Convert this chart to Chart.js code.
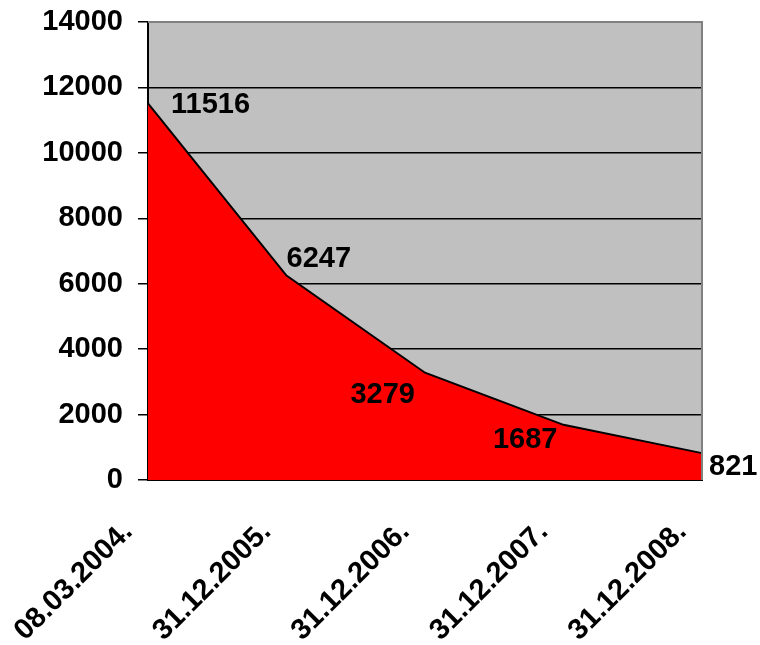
<!DOCTYPE html>
<html lang="en">
<head>
  <meta charset="UTF-8">
  <title>Decline chart</title>
  <script src="https://cdn.jsdelivr.net/npm/chart.js"></script>
  <style>
    body { margin: 0; background: #ffffff; }
    #wrap { width: 760px; height: 645px; }
  </style>
</head>
<body>
  <div id="wrap"><canvas id="declineChart" width="760" height="645"></canvas></div>

  <script>
    // data
    const dates = ['08.03.2004.', '31.12.2005.', '31.12.2006.', '31.12.2007.', '31.12.2008.'];
    const counts = [11516, 6247, 3279, 1687, 821];
    const yTicks = [0, 2000, 4000, 6000, 8000, 10000, 12000, 14000];

    // where each value label sits relative to its point (px) and how it is aligned
    const labelDx = [23, 0, -10, -6, 7];
    const labelDy = [2, -17, 22, 15, 14];
    const labelAlign = ['left', 'left', 'right', 'right', 'left'];

    const FONT = "'Liberation Sans', Arial, sans-serif";
    const FONT_SIZE = 29;

    // gray plot background plus the gray top/right frame
    const plotFrame = {
      id: 'plotFrame',
      beforeDraw(chart) {
        const { ctx, chartArea: a } = chart;
        ctx.save();
        ctx.fillStyle = '#c0c0c0';
        ctx.fillRect(a.left, a.top, a.right - a.left, a.bottom - a.top);
        ctx.restore();
      },
      afterDatasetsDraw(chart) {
        const { ctx, chartArea: a } = chart;
        ctx.save();
        ctx.strokeStyle = '#808080';
        ctx.lineWidth = 2;
        ctx.beginPath();
        ctx.moveTo(a.left, a.top);
        ctx.lineTo(a.right, a.top);
        ctx.lineTo(a.right, a.bottom);
        ctx.stroke();
        ctx.restore();
      }
    };

    // bold value labels next to each point
    const valueLabels = {
      id: 'valueLabels',
      afterDraw(chart) {
        const { ctx } = chart;
        const meta = chart.getDatasetMeta(0);
        ctx.save();
        ctx.font = 'bold ' + FONT_SIZE + 'px ' + FONT;
        ctx.fillStyle = '#000000';
        ctx.textBaseline = 'middle';
        meta.data.forEach((pt, i) => {
          ctx.textAlign = labelAlign[i];
          ctx.fillText(String(counts[i]), pt.x + labelDx[i], pt.y + labelDy[i]);
        });
        ctx.restore();
      }
    };

    const ctx = document.getElementById('declineChart').getContext('2d');
    const declineChart = new Chart(ctx, {
      type: 'line',
      data: {
        labels: dates,
        datasets: [{
          data: counts,
          borderColor: '#000000',
          borderWidth: 2,
          backgroundColor: '#ff0000',
          fill: 'origin',
          tension: 0,
          pointRadius: 0
        }]
      },
      options: {
        responsive: false,
        animation: false,
        layout: {
          padding: { top: 22, right: 58, left: 0, bottom: 0 }
        },
        scales: {
          x: {
            offset: false,
            afterFit(axis) {
              axis.height = 165;
              axis.paddingLeft = 0;
              axis.paddingRight = 0;
            },
            grid: { display: false },
            border: { display: true, color: '#000000', width: 2 },
            ticks: {
              minRotation: 45,
              maxRotation: 45,
              color: '#000000',
              padding: 27,
              labelOffset: -20,
              font: { family: FONT, size: FONT_SIZE, weight: 'bold' }
            }
          },
          y: {
            min: 0,
            max: 14000,
            afterBuildTicks(axis) {
              axis.ticks = yTicks.map(v => ({ value: v }));
            },
            afterFit(axis) {
              axis.width = 148;
              axis.paddingTop = 0;
              axis.paddingBottom = 0;
            },
            grid: {
              color: c => c.tick && c.tick.value === 14000 ? 'rgba(0,0,0,0)' : '#000000',
              tickColor: '#000000',
              tickLength: 10,
              lineWidth: 1.5
            },
            border: { display: true, color: '#000000', width: 2 },
            ticks: {
              color: '#000000',
              padding: 15,
              callback: v => String(v),
              font: { family: FONT, size: FONT_SIZE, weight: 'bold' }
            }
          }
        },
        plugins: {
          legend: { display: false },
          tooltip: { enabled: false }
        }
      },
      plugins: [plotFrame, valueLabels]
    });
  </script>
</body>
</html>
